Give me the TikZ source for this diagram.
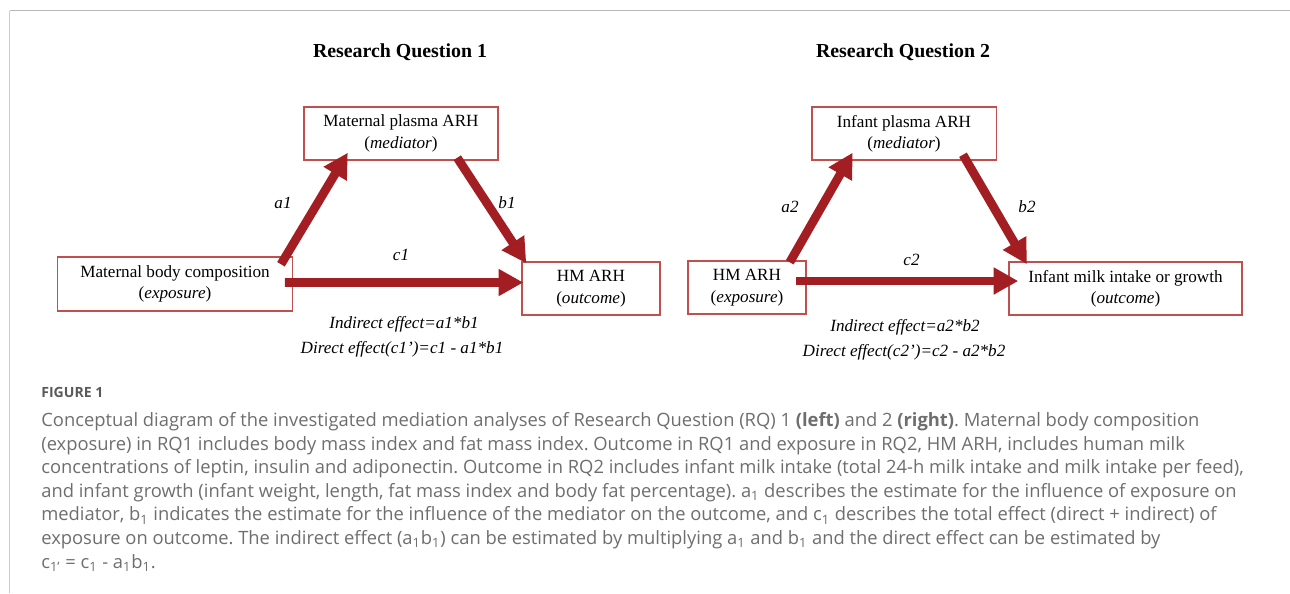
\documentclass[tikz,border=0pt]{standalone}
\usepackage{fontspec}
\setmainfont{Liberation Serif}
\newfontfamily\capfont{Open Sans}
\usetikzlibrary{arrows.meta, calc}
\frenchspacing

\definecolor{arrowred}{HTML}{A31E22}
\definecolor{boxred}{HTML}{C0504D}
\definecolor{capgrey}{HTML}{6E6E6E}
\definecolor{figgrey}{HTML}{5A5A5A}
\definecolor{framegrey}{HTML}{B8B8B8}

\tikzset{
  varbox/.style={draw=boxred, line width=0.85pt, align=center, inner sep=0pt,
    font=\fontsize{9.75}{12.2}\selectfont, execute at begin node={\rule{0pt}{10.3pt}}},
  effarrow/.style={->, draw=arrowred, line width=5pt},
  coef/.style={font=\fontsize{9.75}{11.9}\selectfont\itshape},
  rqtitle/.style={font=\fontsize{11.3}{13}\selectfont\bfseries},
}

\begin{document}
\begin{tikzpicture}[x=0.02cm, y=-0.02cm, >={Triangle[length=14pt, width=14.5pt]}]
\useasboundingbox (0,0) rectangle (1290,593);

% frame
\draw[framegrey!70, line width=1.1pt] (9.5,593) -- (9.5,10.5);
\draw[framegrey, line width=0.9pt] (9.5,10.5) -- (1290,10.5);

% Research Question 1
\begin{scope}
    \node[rqtitle] (title1) at (400,52) {Research Question 1};

    % boxes
    \node[varbox, minimum width=3.88cm, minimum height=1.06cm] (med1) at (401,133.5)
        {Maternal plasma ARH\\(\textit{mediator})};
    \node[varbox, minimum width=4.71cm, minimum height=1.08cm] (exp1) at (175,284)
        {Maternal body composition\\(\textit{exposure})};
    \node[varbox, minimum width=2.76cm, minimum height=1.06cm] (out1) at (591,288.5)
        {HM ARH\\(\textit{outcome})};

    % paths a, b, c
    \draw[effarrow] ($(exp1.north east)+(-12.5,8)$) -- ($(med1.south west)+(44.5,-8)$);
    \draw[effarrow] ($(med1.south east)+(-41.5,-3)$) -- ($(out1.north west)+(5,2)$);
    \draw[effarrow] ($(exp1.east)+(-8.5,-1.5)$) -- ($(out1.west)+(2,-6)$);

    \node[coef] (a1) at (283,203) {a1};
    \node[coef] (b1) at (507,203) {b1};
    \node[coef] (c1) at (401,255) {c1};

    \node[coef] (ind1) at (404,324) {Indirect effect=a1*b1};
    \node[coef] (dir1) at (402,349) {Direct effect(c1’)=c1 - a1*b1};
\end{scope}

% Research Question 2
\begin{scope}
    \node[rqtitle] (title2) at (903,52) {Research Question 2};

    % boxes
    \node[varbox, minimum width=3.69cm, minimum height=1.06cm] (med2) at (904,133.5)
        {Infant plasma ARH\\(\textit{mediator})};
    \node[varbox, minimum width=2.36cm, minimum height=1.06cm] (exp2) at (747,287.5)
        {HM ARH\\(\textit{exposure})};
    \node[varbox, minimum width=4.66cm, minimum height=1.06cm] (out2) at (1125.5,288.5)
        {Infant milk intake or growth\\(\textit{outcome})};

    % paths a, b, c
    \draw[effarrow] ($(exp2.north east)+(-17,2)$) -- ($(med2.south west)+(41.5,-8)$);
    \draw[effarrow] ($(med2.south east)+(-34,-6)$) -- ($(out2.north west)+(18.6,3)$);
    \draw[effarrow] ($(exp2.east)+(-10.5,-6.5)$) -- ($(out2.west)+(10,-7.5)$);

    \node[coef] (a2) at (790,207) {a2};
    \node[coef] (b2) at (1027,207) {b2};
    \node[coef] (c2) at (911.5,260) {c2};

    \node[coef] (ind2) at (905,327) {Indirect effect=a2*b2};
    \node[coef] (dir2) at (904,352) {Direct effect(c2’)=c2 - a2*b2};
\end{scope}

% caption
\node[anchor=base west, inner sep=0pt, text=figgrey,
      font=\capfont\fontsize{8}{9}\selectfont\bfseries] (figlabel) at (41,397.5) {FIGURE 1};
\node[anchor=north west, inner sep=0pt, align=left, text=capgrey,
      font=\capfont\fontsize{10.45}{13.45}\selectfont] (caption) at (41,412)
{Conceptual diagram of the investigated mediation analyses of Research Question (RQ) 1 \textbf{(left)} and 2 \textbf{(right)}. Maternal body composition\\
(exposure) in RQ1 includes body mass index and fat mass index. Outcome in RQ1 and exposure in RQ2, HM ARH, includes human milk\\
concentrations of leptin, insulin and adiponectin. Outcome in RQ2 includes infant milk intake (total 24-h milk intake and milk intake per feed),\\
and infant growth (infant weight, length, fat mass index and body fat percentage). a\textsubscript{1} describes the estimate for the influence of exposure on\\
mediator, b\textsubscript{1} indicates the estimate for the influence of the mediator on the outcome, and c\textsubscript{1} describes the total effect (direct + indirect) of\\
exposure on outcome. The indirect effect (a\textsubscript{1}b\textsubscript{1}) can be estimated by multiplying a\textsubscript{1} and b\textsubscript{1} and the direct effect can be estimated by\\
c\textsubscript{1’} = c\textsubscript{1} - a\textsubscript{1}b\textsubscript{1}.};

\end{tikzpicture}
\end{document}
